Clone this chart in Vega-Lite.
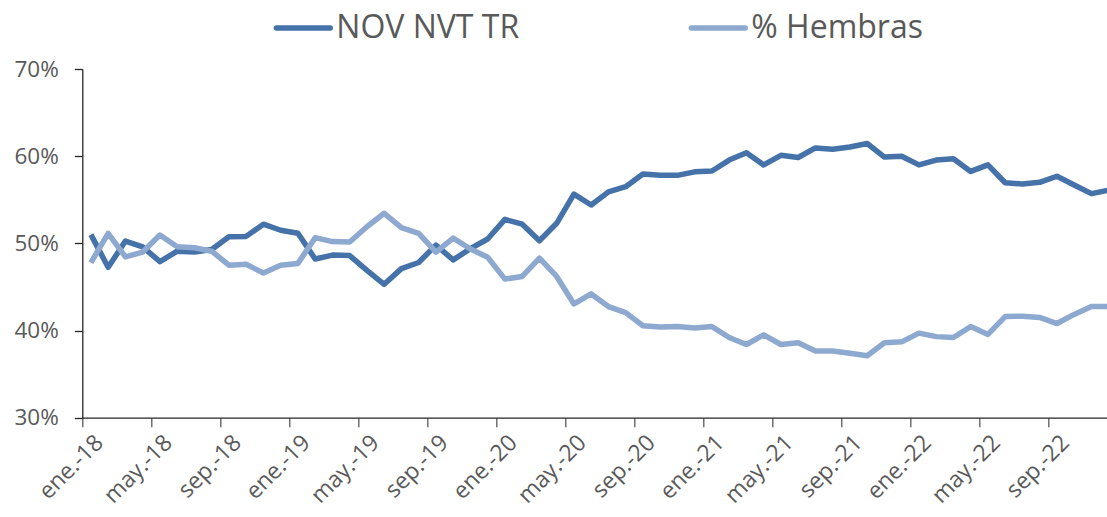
{
  "$schema": "https://vega.github.io/schema/vega-lite/v6.json",
  "width": 1024.7,
  "height": 348.7,
  "autosize": {"type": "none"},
  "padding": {"left": 82.3, "top": 69, "right": 0, "bottom": 99.3},
  "background": "white",
  "config": {
    "view": {"stroke": null},
    "font": "Open Sans"
  },
  "data": {
    "values": [
      {"mes": "ene.-18", "NOV NVT TR": 0.510, "% Hembras": 0.478},
      {"mes": "feb.-18", "NOV NVT TR": 0.4725, "% Hembras": 0.5115},
      {"mes": "mar.-18", "NOV NVT TR": 0.5026, "% Hembras": 0.4845},
      {"mes": "abr.-18", "NOV NVT TR": 0.496, "% Hembras": 0.490},
      {"mes": "may.-18", "NOV NVT TR": 0.479, "% Hembras": 0.5095},
      {"mes": "jun.-18", "NOV NVT TR": 0.491, "% Hembras": 0.496},
      {"mes": "jul.-18", "NOV NVT TR": 0.490, "% Hembras": 0.495},
      {"mes": "ago.-18", "NOV NVT TR": 0.493, "% Hembras": 0.491},
      {"mes": "sep.-18", "NOV NVT TR": 0.5075, "% Hembras": 0.475},
      {"mes": "oct.-18", "NOV NVT TR": 0.508, "% Hembras": 0.476},
      {"mes": "nov.-18", "NOV NVT TR": 0.522, "% Hembras": 0.466},
      {"mes": "dic.-18", "NOV NVT TR": 0.515, "% Hembras": 0.475},
      {"mes": "ene.-19", "NOV NVT TR": 0.5115, "% Hembras": 0.477},
      {"mes": "feb.-19", "NOV NVT TR": 0.482, "% Hembras": 0.5065},
      {"mes": "mar.-19", "NOV NVT TR": 0.4865, "% Hembras": 0.502},
      {"mes": "abr.-19", "NOV NVT TR": 0.486, "% Hembras": 0.5015},
      {"mes": "may.-19", "NOV NVT TR": 0.469, "% Hembras": 0.519},
      {"mes": "jun.-19", "NOV NVT TR": 0.453, "% Hembras": 0.5345},
      {"mes": "jul.-19", "NOV NVT TR": 0.471, "% Hembras": 0.518},
      {"mes": "ago.-19", "NOV NVT TR": 0.478, "% Hembras": 0.5115},
      {"mes": "sep.-19", "NOV NVT TR": 0.498, "% Hembras": 0.490},
      {"mes": "oct.-19", "NOV NVT TR": 0.481, "% Hembras": 0.506},
      {"mes": "nov.-19", "NOV NVT TR": 0.494, "% Hembras": 0.4935},
      {"mes": "dic.-19", "NOV NVT TR": 0.505, "% Hembras": 0.484},
      {"mes": "ene.-20", "NOV NVT TR": 0.5275, "% Hembras": 0.459},
      {"mes": "feb.-20", "NOV NVT TR": 0.522, "% Hembras": 0.462},
      {"mes": "mar.-20", "NOV NVT TR": 0.503, "% Hembras": 0.483},
      {"mes": "abr.-20", "NOV NVT TR": 0.523, "% Hembras": 0.462},
      {"mes": "may.-20", "NOV NVT TR": 0.5565, "% Hembras": 0.4305},
      {"mes": "jun.-20", "NOV NVT TR": 0.544, "% Hembras": 0.442},
      {"mes": "jul.-20", "NOV NVT TR": 0.559, "% Hembras": 0.4275},
      {"mes": "ago.-20", "NOV NVT TR": 0.565, "% Hembras": 0.4205},
      {"mes": "sep.-20", "NOV NVT TR": 0.5795, "% Hembras": 0.4055},
      {"mes": "oct.-20", "NOV NVT TR": 0.578, "% Hembras": 0.404},
      {"mes": "nov.-20", "NOV NVT TR": 0.578, "% Hembras": 0.4045},
      {"mes": "dic.-20", "NOV NVT TR": 0.582, "% Hembras": 0.403},
      {"mes": "ene.-21", "NOV NVT TR": 0.583, "% Hembras": 0.4045},
      {"mes": "feb.-21", "NOV NVT TR": 0.5955, "% Hembras": 0.392},
      {"mes": "mar.-21", "NOV NVT TR": 0.604, "% Hembras": 0.384},
      {"mes": "abr.-21", "NOV NVT TR": 0.590, "% Hembras": 0.395},
      {"mes": "may.-21", "NOV NVT TR": 0.601, "% Hembras": 0.384},
      {"mes": "jun.-21", "NOV NVT TR": 0.5985, "% Hembras": 0.386},
      {"mes": "jul.-21", "NOV NVT TR": 0.6095, "% Hembras": 0.3765},
      {"mes": "ago.-21", "NOV NVT TR": 0.608, "% Hembras": 0.3765},
      {"mes": "sep.-21", "NOV NVT TR": 0.6105, "% Hembras": 0.374},
      {"mes": "oct.-21", "NOV NVT TR": 0.6145, "% Hembras": 0.371},
      {"mes": "nov.-21", "NOV NVT TR": 0.599, "% Hembras": 0.386},
      {"mes": "dic.-21", "NOV NVT TR": 0.600, "% Hembras": 0.387},
      {"mes": "ene.-22", "NOV NVT TR": 0.590, "% Hembras": 0.397},
      {"mes": "feb.-22", "NOV NVT TR": 0.5955, "% Hembras": 0.393},
      {"mes": "mar.-22", "NOV NVT TR": 0.597, "% Hembras": 0.392},
      {"mes": "abr.-22", "NOV NVT TR": 0.5825, "% Hembras": 0.4045},
      {"mes": "may.-22", "NOV NVT TR": 0.590, "% Hembras": 0.3955},
      {"mes": "jun.-22", "NOV NVT TR": 0.5695, "% Hembras": 0.416},
      {"mes": "jul.-22", "NOV NVT TR": 0.568, "% Hembras": 0.4165},
      {"mes": "ago.-22", "NOV NVT TR": 0.570, "% Hembras": 0.415},
      {"mes": "sep.-22", "NOV NVT TR": 0.577, "% Hembras": 0.408},
      {"mes": "oct.-22", "NOV NVT TR": 0.567, "% Hembras": 0.4185},
      {"mes": "nov.-22", "NOV NVT TR": 0.557, "% Hembras": 0.4275},
      {"mes": "dic.-22", "NOV NVT TR": 0.561, "% Hembras": 0.4275}
    ]
  },
  "transform": [
    {"fold": ["NOV NVT TR", "% Hembras"], "as": ["serie", "valor"]}
  ],
  "encoding": {
    "x": {
      "field": "mes",
      "type": "ordinal",
      "sort": null,
      "bandPosition": 0.5,
      "scale": {"type": "band", "paddingInner": 0, "paddingOuter": 0, "range": [0, 1035]},
      "axis": {
        "title": null,
        "values": ["ene.-18", "may.-18", "sep.-18", "ene.-19", "may.-19", "sep.-19", "ene.-20", "may.-20", "sep.-20", "ene.-21", "may.-21", "sep.-21", "ene.-22", "may.-22", "sep.-22"],
        "bandPosition": 0,
        "labelOffset": 8.6,
        "labelAngle": -45,
        "labelAlign": "right",
        "labelBaseline": "middle",
        "labelFont": "Open Sans",
        "labelFontSize": 23,
        "labelColor": "#595959",
        "labelPadding": 12,
        "tickSize": 9,
        "tickColor": "#595959",
        "tickWidth": 1.3,
        "domainColor": "#262626",
        "domainWidth": 1.3,
        "grid": false,
        "labelOverlap": false,
        "labelBound": false
      }
    },
    "y": {
      "field": "valor",
      "type": "quantitative",
      "scale": {"domain": [0.3, 0.7], "nice": false, "zero": false},
      "axis": {
        "title": null,
        "values": [0.3, 0.4, 0.5, 0.6, 0.7],
        "format": ".0%",
        "labelFont": "Open Sans",
        "labelFontSize": 22.5,
        "labelColor": "#595959",
        "labelPadding": 16,
        "tickSize": 8,
        "tickColor": "#262626",
        "tickWidth": 1.3,
        "domainColor": "#262626",
        "domainWidth": 1.3,
        "grid": false
      }
    },
    "color": {
      "field": "serie",
      "type": "nominal",
      "scale": {"domain": ["NOV NVT TR", "% Hembras"], "range": ["#4472A9", "#8EA9D0"]},
      "legend": {
        "title": null,
        "orient": "none",
        "legendX": 191,
        "legendY": -71,
        "direction": "horizontal",
        "columnPadding": 161,
        "symbolType": "stroke",
        "symbolSize": 2900,
        "symbolStrokeWidth": 5.5,
        "labelFont": "Open Sans",
        "labelFontSize": 32,
        "labelColor": "#595959",
        "labelOffset": 3,
        "labelLimit": 400,
        "encode": {"symbols": {"update": {"strokeCap": {"value": "round"}}}}
      }
    }
  },
  "layer": [
    {
      "transform": [{"filter": "datum.serie === 'NOV NVT TR'"}],
      "mark": {"type": "line", "strokeWidth": 5.5, "strokeJoin": "round", "strokeCap": "butt", "clip": true}
    },
    {
      "transform": [{"filter": "datum.serie === '% Hembras'"}],
      "mark": {"type": "line", "strokeWidth": 5.5, "strokeJoin": "round", "strokeCap": "butt", "clip": true}
    }
  ]
}
